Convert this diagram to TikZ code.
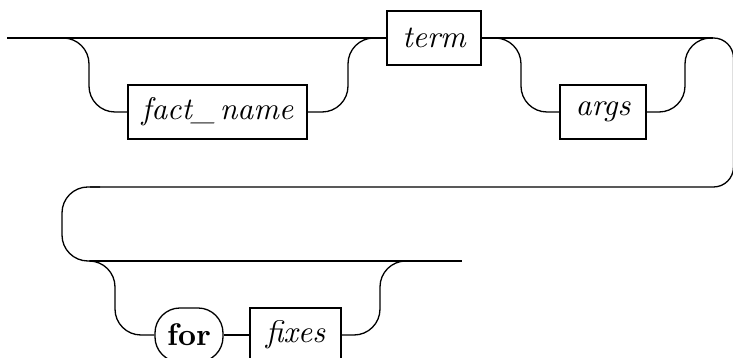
\documentclass[tikz,border=0pt]{standalone}
\usetikzlibrary{positioning}
\begin{document}
\begin{tikzpicture}[x=0.32pt,y=-0.32pt,line width=0.42pt,
  ntbox/.style={draw,rectangle,inner sep=0pt,minimum height=17.28pt,font=\itshape},
  tbox/.style={draw,rectangle,rounded corners=8pt,inner sep=0pt,minimum height=17.28pt,font=\bfseries},
  rail/.style={rounded corners=8.3pt},
  loopr/.style={rounded corners=6.4pt}]
\useasboundingbox (0,0) rectangle (733,358);
% nodes
\node[ntbox,minimum width=57.28pt] (fact) at (217.5,112) {fact\_\kern1.5pt name};
\node[ntbox,minimum width=30.08pt] (term) at (434,38) {term};
\node[ntbox,minimum width=27.52pt] (args) at (603,112) {args};
\node[tbox,minimum width=21.76pt] (for) at (189,335) {for};
\node[ntbox,minimum width=29.12pt] (fixes) at (295.5,335) {fixes};
\coordinate (start) at (7,38);
\coordinate (j1) at (713,38);
\coordinate (j2) at (90,261);
\coordinate (finish) at (462,261);
% top row
\draw (start) -- (term.west);
\draw[rail] (start) -- (89,38) -- (89,112) -- (fact.west);
\draw[rail] (fact.east) -- (348,112) -- (348,38) -- (term.west);
\draw (term.east) -- (j1);
\draw[rail] (term.east) -- (521,38) -- (521,112) -- (args.west);
\draw[rail] (args.east) -- (685,112) -- (685,38) -- (j1);
% loop back
\draw[loopr] (j1) -- (733.5,38) -- (733.5,187) -- (90,187);
\draw[rail] (100,187) -- (62,187) -- (62,261) -- (j2);
% bottom row
\draw (j2) -- (finish);
\draw[rail] (j2) -- (115,261) -- (115,335) -- (for.west);
\draw (for.east) -- (fixes.west);
\draw[rail] (fixes.east) -- (380,335) -- (380,261) -- (407,261);
\end{tikzpicture}
\end{document}
